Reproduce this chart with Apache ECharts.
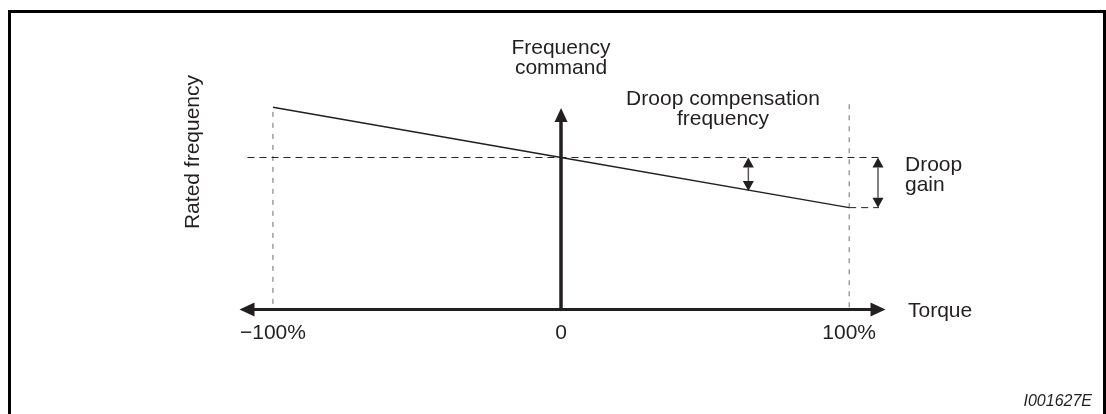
<!DOCTYPE html>
<html><head><meta charset="utf-8">
<script src="https://cdn.jsdelivr.net/npm/echarts@6/dist/echarts.min.js"></script>
<style>html,body{margin:0;padding:0;background:#fff}#c{width:1106px;height:414px}</style>
</head><body><div id="c"></div>
<script>
// ---- data ----
const torquePct = [-100, 0, 100];                 // torque positions, %
const tickLabels = ['\u2212100%', '0', '100%'];   // torque tick labels
const freqCommand = [133, 100, 67];               // frequency command at each torque (rated = 100)
const ratedFreq = [100];
const droopCompArrow = [65, 100, 78];             // torque, from, to
const droopGainArrow = [110, 100, 67];            // torque, from, to

const FONT = '"Liberation Sans", Arial, Helvetica, sans-serif';
const INK = '#231f20';
const GREY = '#6d6e71';

const chart = echarts.init(document.getElementById('c'), null, {renderer: 'canvas'});

function arrowItem(params, api) {
  const x = api.value(0), y1 = api.value(1), y2 = api.value(2);
  const a = api.coord([x, y1]), b = api.coord([x, y2]);
  const dir = b[1] > a[1] ? 1 : -1;
  const hl = 10, hw = 5.5;
  return {type: 'group', children: [
    {type: 'line', shape: {x1: a[0], y1: a[1] + dir * hl, x2: b[0], y2: b[1] - dir * hl},
     style: {stroke: '#58595b', lineWidth: 1.5}},
    {type: 'polygon', shape: {points: [[a[0], a[1]], [a[0] - hw, a[1] + dir * hl], [a[0] + hw, a[1] + dir * hl]]},
     style: {fill: INK}},
    {type: 'polygon', shape: {points: [[b[0], b[1]], [b[0] - hw, b[1] - dir * hl], [b[0] + hw, b[1] - dir * hl]]},
     style: {fill: INK}}
  ]};
}

const option = {
  animation: false,
  backgroundColor: '#fff',
  grid: {left: 247, width: 631, top: 114.9, height: 194.6, outerBoundsMode: 'none'},
  xAxis: {
    type: 'value', min: -109, max: 110,
    axisLine: {show: true, onZero: true, symbol: ['triangle', 'triangle'], symbolSize: [14, 15],
               lineStyle: {color: INK, width: 3}},
    axisTick: {show: false}, axisLabel: {show: false}, splitLine: {show: false}
  },
  yAxis: {
    type: 'value', min: 0, max: 128,
    axisLine: {show: true, onZero: true, symbol: ['none', 'triangle'], symbolSize: [13, 14],
               lineStyle: {color: INK, width: 3.5}},
    axisTick: {show: false}, axisLabel: {show: false}, splitLine: {show: false}
  },
  series: [
    { // vertical guides at -100% and 100%
      type: 'line', symbol: 'none', clip: false, silent: true, z: 1,
      data: [[torquePct[0], 130], [torquePct[0], 0]],
      lineStyle: {color: GREY, width: 1, type: [5, 6]}
    },
    {
      type: 'line', symbol: 'none', clip: false, silent: true, z: 1,
      data: [[torquePct[2], 135], [torquePct[2], 0]],
      lineStyle: {color: GREY, width: 1, type: [5, 6]}
    },
    { // rated frequency dashed line
      type: 'line', symbol: 'none', clip: false, silent: true, z: 1,
      data: [[-113, ratedFreq[0]], [114, ratedFreq[0]]],
      lineStyle: {color: INK, width: 1, type: [7, 5]}
    },
    { // dashed at droop-compensated value at 100%
      type: 'line', symbol: 'none', clip: false, silent: true, z: 1,
      data: [[torquePct[2], freqCommand[2]], [112, freqCommand[2]]],
      lineStyle: {color: INK, width: 1, type: [7, 5]}
    },
    { // frequency command line
      type: 'line', symbol: 'none', clip: false, silent: true, z: 3,
      data: torquePct.map((t, i) => [t, freqCommand[i]]),
      lineStyle: {color: INK, width: 1.4}
    },
    { // arrows
      type: 'custom', silent: true, z: 4,
      data: [droopCompArrow, droopGainArrow],
      renderItem: arrowItem
    },
    { // tick labels
      type: 'custom', silent: true, z: 4,
      data: torquePct.map(t => [t, 0]),
      renderItem: function (params, api) {
        const p = api.coord([api.value(0), 0]);
        return {type: 'text', x: p[0], y: p[1] + 24,
          style: {text: tickLabels[params.dataIndex], align: 'center', verticalAlign: 'middle',
                  font: '21px ' + FONT, fill: INK}};
      }
    }
  ],
  graphic: [
    {type: 'polyline', silent: true,
     shape: {points: [[9.5, 416], [9.5, 11.5], [1104.5, 11.5], [1104.5, 416]]},
     style: {stroke: '#000', lineWidth: 3, fill: null}},
    {type: 'text', x: 561, y: 58, style: {text: 'Frequency\ncommand', align: 'center', verticalAlign: 'middle',
      font: '21px ' + FONT, lineHeight: 20, fill: INK}},
    {type: 'text', x: 723, y: 109, style: {text: 'Droop compensation\nfrequency', align: 'center', verticalAlign: 'middle',
      font: '21px ' + FONT, lineHeight: 20, fill: INK}},
    {type: 'text', x: 905, y: 175, style: {text: 'Droop\ngain', align: 'left', verticalAlign: 'middle',
      font: '21px ' + FONT, lineHeight: 20, fill: INK}},
    {type: 'text', x: 908, y: 311, style: {text: 'Torque', align: 'left', verticalAlign: 'middle',
      font: '21px ' + FONT, fill: INK}},
    {type: 'text', x: 193, y: 152, rotation: Math.PI / 2, style: {text: 'Rated frequency', align: 'center', verticalAlign: 'middle',
      font: '21px ' + FONT, fill: INK}},
    {type: 'text', x: 1092, y: 402, style: {text: 'I001627E', align: 'right', verticalAlign: 'middle',
      font: 'italic 16px ' + FONT, fill: INK}}
  ]
};
chart.setOption(option);
</script>
</body></html>
